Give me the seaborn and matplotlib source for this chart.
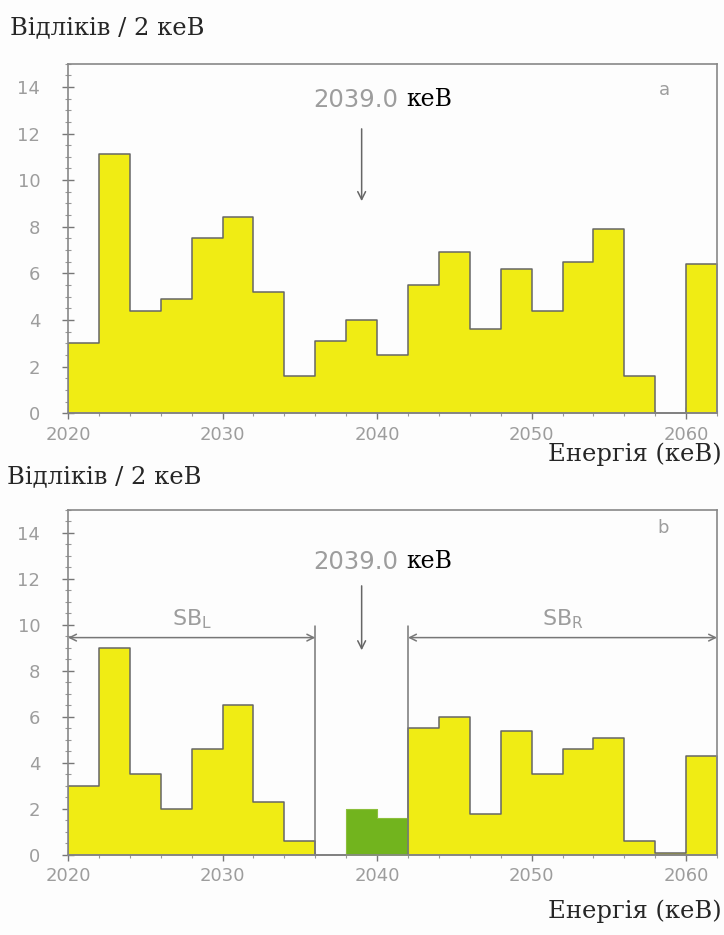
import matplotlib
matplotlib.use('Agg')
import matplotlib.pyplot as plt
import seaborn as sns
from matplotlib.ticker import MultipleLocator

# 2 keV bins, 2020..2062 keV
bin_edges = list(range(2020, 2064, 2))
bin_centers = [e + 1 for e in bin_edges[:-1]]

# panel a: full spectrum
counts_a = [3.0, 11.1, 4.4, 4.9, 7.5, 8.4, 5.2, 1.6, 3.1, 4.0, 2.5,
            5.5, 6.9, 3.6, 6.2, 4.4, 6.5, 7.9, 1.6, 0.0, 6.4]

# panel b: side bands (yellow) and the signal window (green)
counts_b_side = [3.0, 9.0, 3.5, 2.0, 4.6, 6.5, 2.3, 0.6, 0.0, 0.0, 0.0,
                 5.5, 6.0, 1.8, 5.4, 3.5, 4.6, 5.1, 0.6, 0.1, 4.3]
signal_edges = [2038, 2040, 2042]
signal_centers = [2039, 2041]
counts_b_signal = [2.0, 1.6]

peak_energy = 2039.0
sb_left = (2020, 2036)
sb_right = (2042, 2062)

yellow = '#f0ec14'
green = '#72b41e'
edge = '#666666'
grey_txt = '#9d9d9d'

sns.set_style('white')
plt.rcParams['font.family'] = ['DejaVu Sans']

fig = plt.figure(figsize=(7.24, 9.35), dpi=100)
fig.patch.set_facecolor('#fdfdfd')
ax_a = fig.add_axes([0.094, 0.558, 0.8964, 0.374])
ax_b = fig.add_axes([0.094, 0.0856, 0.8964, 0.369])

sns.histplot(x=bin_centers, weights=counts_a, bins=bin_edges, element='step',
             fill=True, color=yellow, alpha=1, edgecolor=edge, linewidth=1.1, ax=ax_a)
sns.histplot(x=bin_centers, weights=counts_b_side, bins=bin_edges, element='step',
             fill=True, color=yellow, alpha=1, edgecolor=edge, linewidth=1.1, ax=ax_b)
sns.histplot(x=signal_centers, weights=counts_b_signal, bins=signal_edges, element='step',
             fill=True, color=green, alpha=1, edgecolor='#8cbf3c', linewidth=0.8, ax=ax_b)

for ax in (ax_a, ax_b):
    ax.set_facecolor('#fdfdfd')
    ax.set_xlim(2020, 2062)
    ax.set_ylim(0, 15)
    ax.set_xlabel('')
    ax.set_ylabel('')
    ax.xaxis.set_major_locator(MultipleLocator(10))
    ax.xaxis.set_minor_locator(MultipleLocator(2))
    ax.yaxis.set_major_locator(MultipleLocator(2))
    ax.yaxis.set_minor_locator(MultipleLocator(0.5))
    ax.tick_params(which='major', direction='inout', length=8, width=1, color='#777',
                   labelcolor=grey_txt, labelsize=13, left=True, bottom=True)
    ax.tick_params(axis='y', which='major', pad=16)
    ax.tick_params(axis='x', which='major', pad=5)
    ax.tick_params(which='minor', direction='inout', length=4, width=0.8, color='#999',
                   left=True, bottom=True)
    for sp in ax.spines.values():
        sp.set_color('#888')
        sp.set_linewidth(1.2)

ax_a.annotate('', xy=(peak_energy, 9.1), xytext=(peak_energy, 12.2),
              arrowprops=dict(arrowstyle='->', color='#666', lw=1.1,
                              shrinkA=0, shrinkB=0, mutation_scale=14))
ax_b.annotate('', xy=(peak_energy, 8.9), xytext=(peak_energy, 11.7),
              arrowprops=dict(arrowstyle='->', color='#666', lw=1.1,
                              shrinkA=0, shrinkB=0, mutation_scale=14))

# panel a annotations
ax_a.text(2041.4, 13.45, '2039.0', color=grey_txt, fontsize=17.5, ha='right', va='center')
ax_a.text(2041.9, 13.45, 'кеВ', color='black', fontsize=17, family='DejaVu Serif',
          ha='left', va='center')
ax_a.text(2058.6, 13.85, 'a', color=grey_txt, fontsize=13, ha='center', va='center')

# panel b annotations
ax_b.text(2041.4, 12.75, '2039.0', color=grey_txt, fontsize=17.5, ha='right', va='center')
ax_b.text(2041.9, 12.75, 'кеВ', color='black', fontsize=17, family='DejaVu Serif',
          ha='left', va='center')
ax_b.text(2058.5, 14.2, 'b', color=grey_txt, fontsize=13, ha='center', va='center')

for lo, hi, lab in [(sb_left[0], sb_left[1], 'SB$_\\mathregular{L}$'),
                    (sb_right[0], sb_right[1], 'SB$_\\mathregular{R}$')]:
    ax_b.annotate('', xy=(lo, 9.45), xytext=(hi, 9.45),
                  arrowprops=dict(arrowstyle='<->', color='#777', lw=1.1,
                                  shrinkA=0, shrinkB=0, mutation_scale=12))
    ax_b.text((lo + hi) / 2, 10.25, lab, color=grey_txt, fontsize=16,
              ha='center', va='center')
ax_b.plot([sb_left[1]] * 2, [0, 9.95], color='#777', lw=1.1)
ax_b.plot([sb_right[0]] * 2, [0, 9.95], color='#777', lw=1.1)

# axis titles
serif = ['DejaVu Serif']
fig.text(0.014, 0.970, 'Відліків / 2 кеВ', family=serif, fontsize=17.5, va='center', ha='left')
fig.text(0.997, 0.514, 'Енергія (кеВ)', family=serif, fontsize=17.5, va='center', ha='right')
fig.text(0.010, 0.490, 'Відліків / 2 кеВ', family=serif, fontsize=17.5, va='center', ha='left')
fig.text(0.997, 0.025, 'Енергія (кеВ)', family=serif, fontsize=17.5, va='center', ha='right')

fig.savefig('out.png', dpi=100, facecolor=fig.get_facecolor())
